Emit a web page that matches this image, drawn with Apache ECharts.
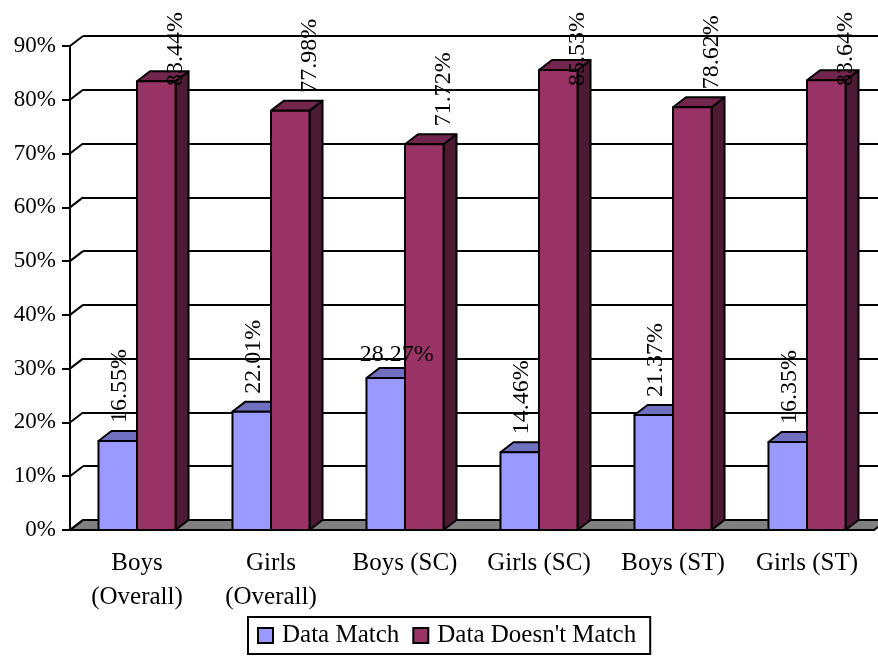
<!DOCTYPE html>
<html>
<head>
<meta charset="utf-8">
<script src="https://cdn.jsdelivr.net/npm/echarts@6/dist/echarts.min.js"></script>
<style>
  html, body { margin: 0; padding: 0; background: #fff; }
  #main { width: 878px; height: 657px; }
</style>
</head>
<body>
<div id="main"></div>
<script>
// chart data
const categories = ['Boys\n(Overall)', 'Girls\n(Overall)', 'Boys (SC)', 'Girls (SC)', 'Boys (ST)', 'Girls (ST)']
const dataMatch = [16.55, 22.01, 28.27, 14.46, 21.37, 16.35]
const dataNoMatch = [83.44, 77.98, 71.72, 85.53, 78.62, 83.64]
const yTicks = [0, 10, 20, 30, 40, 50, 60, 70, 80, 90]
const seriesNames = ['Data Match', "Data Doesn't Match"]

// look
const FONT = '"Liberation Serif", "Times New Roman", serif'
const DX = 13
const DY = -10
const colors = [
  { front: '#9999ff', top: '#7070c0', side: '#4d4d80' },
  { front: '#993366', top: '#73264d', side: '#4d1a33' }
]
// the one label Excel laid out flat
const flatLabels = { 0: [2], 1: [] }

const ctx = document.createElement('canvas').getContext('2d')
ctx.font = '24px ' + FONT
function textLen (s) {
  return ctx.measureText(s).width
}

// front x-range of bar si in category i
function barBox (si, api) {
  const i = api.value(0)
  const v = api.value(1)
  const top = api.coord([i, v])
  const base = api.coord([i, 0])
  const w = api.size([1, 0])[0] * 0.2875
  const x0 = si === 0 ? top[0] - w : top[0]
  return { i, v, x0, x1: x0 + w, w, yt: top[1], yb: base[1] }
}

function barRenderer (si) {
  return function (params, api) {
    const b = barBox(si, api)
    const c = colors[si]
    const line = { stroke: '#000', lineWidth: 2, lineJoin: 'round' }
    return {
      type: 'group',
      children: [
        { type: 'polygon', shape: { points: [[b.x1, b.yt], [b.x1 + DX, b.yt + DY], [b.x1 + DX, b.yb + DY], [b.x1, b.yb]] }, style: Object.assign({ fill: c.side }, line) },
        { type: 'polygon', shape: { points: [[b.x0, b.yt], [b.x1, b.yt], [b.x1 + DX, b.yt + DY], [b.x0 + DX, b.yt + DY]] }, style: Object.assign({ fill: c.top }, line) },
        { type: 'rect', shape: { x: b.x0, y: b.yt, width: b.w, height: b.yb - b.yt }, style: Object.assign({ fill: c.front }, line) }
      ]
    }
  }
}

function labelRenderer (si) {
  return function (params, api) {
    const b = barBox(si, api)
    const label = b.v.toFixed(2) + '%'
    const cx = b.x0 + b.w / 2
    const base = { text: label, fill: '#000', fontSize: 24, fontFamily: FONT, verticalAlign: 'middle' }
    if (flatLabels[si].indexOf(b.i) >= 0) {
      return { type: 'text', x: cx + 11, y: b.yt - 23, style: Object.assign({ align: 'center' }, base) }
    }
    const L = textLen(label)
    const off = si === 0 ? 2 : 19
    const clamp = b.yt - 18 - L < 12
    return {
      type: 'text',
      x: cx + off,
      y: clamp ? 12 : b.yt - 18,
      rotation: Math.PI / 2,
      style: Object.assign({ align: clamp ? 'right' : 'left' }, base)
    }
  }
}

const chart = echarts.init(document.getElementById('main'))
const options = {
  backgroundColor: '#fff',
  animation: false,
  textStyle: { fontFamily: FONT },
  legend: {
    data: seriesNames.map((n, k) => ({ name: n, itemStyle: { color: colors[k].front, borderColor: '#000', borderWidth: 2 } })),
    left: 248,
    top: 617,
    icon: 'rect',
    itemWidth: 15,
    itemHeight: 15,
    itemGap: 13,
    padding: [6, 14, 6, 9],
    borderColor: '#000',
    borderWidth: 2,
    textStyle: { fontSize: 25, color: '#000', fontFamily: FONT, padding: [0, 0, 0, 4] }
  },
  grid: [
    { left: 70, right: 4, top: 46, bottom: 127 },
    { left: 70 + DX, right: 4 - DX, top: 46 + DY, bottom: 127 - DY }
  ],
  xAxis: [
    {
      type: 'category',
      gridIndex: 0,
      data: categories,
      boundaryGap: true,
      axisLine: { lineStyle: { color: '#000', width: 2 } },
      axisTick: { length: 9, lineStyle: { color: '#000', width: 2 } },
      axisLabel: { interval: 0, color: '#000', fontSize: 25, lineHeight: 34, margin: 16, fontFamily: FONT }
    },
    { type: 'value', gridIndex: 1, show: false }
  ],
  yAxis: [
    {
      type: 'value',
      gridIndex: 0,
      min: 0,
      max: 90,
      interval: 10,
      splitLine: { show: false },
      axisLine: { show: true, lineStyle: { color: '#000', width: 2 } },
      axisTick: { show: true, length: 8, lineStyle: { color: '#000', width: 2 } },
      axisLabel: { formatter: '{value}%', color: '#000', fontSize: 23, margin: 14, fontFamily: FONT }
    },
    {
      type: 'value',
      gridIndex: 1,
      min: 0,
      max: 90,
      interval: 10,
      axisLine: { show: false },
      axisTick: { show: false },
      axisLabel: { show: false },
      splitLine: { lineStyle: { color: '#000', width: 2 } }
    }
  ],
  series: [
    {
      // floor
      type: 'custom',
      xAxisIndex: 0,
      yAxisIndex: 0,
      z: 1,
      silent: true,
      data: [[0, 0]],
      encode: { x: 0, y: 1 },
      renderItem (params, api) {
        const cs = params.coordSys
        const yb = api.coord([0, 0])[1]
        const xl = cs.x
        const xr = cs.x + cs.width
        return {
          type: 'polygon',
          shape: { points: [[xl, yb], [xr, yb], [xr + DX, yb + DY], [xl + DX, yb + DY]] },
          style: { fill: '#808080', stroke: '#000', lineWidth: 2 }
        }
      }
    },
    {
      // side wall joins
      type: 'custom',
      xAxisIndex: 0,
      yAxisIndex: 0,
      z: 1,
      silent: true,
      data: yTicks.map(t => [0, t]),
      encode: { x: 0, y: 1 },
      renderItem (params, api) {
        const cs = params.coordSys
        const y = api.coord([0, api.value(1)])[1]
        return {
          type: 'line',
          shape: { x1: cs.x, y1: y, x2: cs.x + DX, y2: y + DY },
          style: { stroke: '#000', lineWidth: 2 }
        }
      }
    },
    {
      name: seriesNames[0],
      type: 'custom',
      xAxisIndex: 0,
      yAxisIndex: 0,
      z: 3,
      itemStyle: { color: colors[0].front, borderColor: '#000', borderWidth: 2 },
      data: dataMatch.map((v, i) => [i, v]),
      encode: { x: 0, y: 1 },
      renderItem: barRenderer(0)
    },
    {
      name: seriesNames[1],
      type: 'custom',
      xAxisIndex: 0,
      yAxisIndex: 0,
      z: 4,
      itemStyle: { color: colors[1].front, borderColor: '#000', borderWidth: 2 },
      data: dataNoMatch.map((v, i) => [i, v]),
      encode: { x: 0, y: 1 },
      renderItem: barRenderer(1)
    },
    {
      // value labels, above both bar layers
      type: 'custom',
      xAxisIndex: 0,
      yAxisIndex: 0,
      z: 6,
      silent: true,
      data: dataMatch.map((v, i) => [i, v]),
      encode: { x: 0, y: 1 },
      renderItem: labelRenderer(0)
    },
    {
      type: 'custom',
      xAxisIndex: 0,
      yAxisIndex: 0,
      z: 6,
      silent: true,
      data: dataNoMatch.map((v, i) => [i, v]),
      encode: { x: 0, y: 1 },
      renderItem: labelRenderer(1)
    }
  ]
}
chart.setOption(options)
</script>
</body>
</html>
